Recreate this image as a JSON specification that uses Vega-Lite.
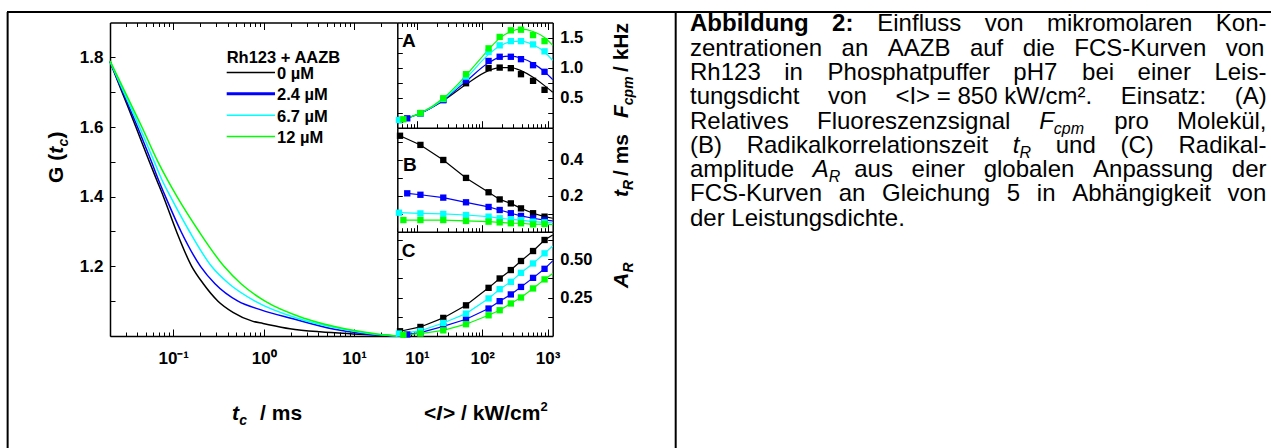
{
  "$schema": "https://vega.github.io/schema/vega-lite/v6.json",
  "width": 1271,
  "height": 448,
  "padding": 0,
  "autosize": "none",
  "background": "white",
  "config": {
    "view": {"stroke": null},
    "axis": {"labelFont": "Liberation Sans", "labelFontWeight": "bold", "labelColor": "black", "domainColor": "black", "tickColor": "black", "grid": false, "domainWidth": 1.5, "tickWidth": 1}
  },
  "datasets": {
    "fcs": [
      {"c": "0 µM", "t": 0.02, "G": 1.788}, {"c": "0 µM", "t": 0.02721, "G": 1.7}, {"c": "0 µM", "t": 0.03867, "G": 1.6}, {"c": "0 µM", "t": 0.05453, "G": 1.5}, {"c": "0 µM", "t": 0.06566, "G": 1.448}, {"c": "0 µM", "t": 0.078, "G": 1.4}, {"c": "0 µM", "t": 0.1087, "G": 1.3}, {"c": "0 µM", "t": 0.16, "G": 1.2}, {"c": "0 µM", "t": 0.215, "G": 1.15}, {"c": "0 µM", "t": 0.3125, "G": 1.1}, {"c": "0 µM", "t": 0.4577, "G": 1.068}, {"c": "0 µM", "t": 0.7615, "G": 1.042}, {"c": "0 µM", "t": 0.9824, "G": 1.036}, {"c": "0 µM", "t": 1.953, "G": 1.021}, {"c": "0 µM", "t": 4.194, "G": 1.012}, {"c": "0 µM", "t": 9.71, "G": 1.006}, {"c": "0 µM", "t": 30, "G": 1.0},
      {"c": "2.4 µM", "t": 0.02, "G": 1.788}, {"c": "2.4 µM", "t": 0.02778, "G": 1.7}, {"c": "2.4 µM", "t": 0.04027, "G": 1.6}, {"c": "2.4 µM", "t": 0.05752, "G": 1.5}, {"c": "2.4 µM", "t": 0.06874, "G": 1.448}, {"c": "2.4 µM", "t": 0.08212, "G": 1.4}, {"c": "2.4 µM", "t": 0.1219, "G": 1.3}, {"c": "2.4 µM", "t": 0.2001, "G": 1.2}, {"c": "2.4 µM", "t": 0.2894, "G": 1.15}, {"c": "2.4 µM", "t": 0.52, "G": 1.1}, {"c": "2.4 µM", "t": 0.9337, "G": 1.075}, {"c": "2.4 µM", "t": 2.055, "G": 1.05}, {"c": "2.4 µM", "t": 5.836, "G": 1.02}, {"c": "2.4 µM", "t": 13.52, "G": 1.006}, {"c": "2.4 µM", "t": 30, "G": 1.0},
      {"c": "6.7 µM", "t": 0.02, "G": 1.788}, {"c": "6.7 µM", "t": 0.02841, "G": 1.7}, {"c": "6.7 µM", "t": 0.04237, "G": 1.6}, {"c": "6.7 µM", "t": 0.06176, "G": 1.5}, {"c": "6.7 µM", "t": 0.07513, "G": 1.448}, {"c": "6.7 µM", "t": 0.09329, "G": 1.4}, {"c": "6.7 µM", "t": 0.1513, "G": 1.3}, {"c": "6.7 µM", "t": 0.2649, "G": 1.2}, {"c": "6.7 µM", "t": 0.4135, "G": 1.15}, {"c": "6.7 µM", "t": 0.8015, "G": 1.1}, {"c": "6.7 µM", "t": 2.395, "G": 1.05}, {"c": "6.7 µM", "t": 7.339, "G": 1.02}, {"c": "6.7 µM", "t": 16.16, "G": 1.006}, {"c": "6.7 µM", "t": 30, "G": 1.0},
      {"c": "12 µM", "t": 0.02, "G": 1.79}, {"c": "12 µM", "t": 0.02935, "G": 1.7}, {"c": "12 µM", "t": 0.04503, "G": 1.6}, {"c": "12 µM", "t": 0.06786, "G": 1.5}, {"c": "12 µM", "t": 0.08643, "G": 1.448}, {"c": "12 µM", "t": 0.1101, "G": 1.4}, {"c": "12 µM", "t": 0.1927, "G": 1.3}, {"c": "12 µM", "t": 0.3641, "G": 1.2}, {"c": "12 µM", "t": 0.5613, "G": 1.15}, {"c": "12 µM", "t": 1.034, "G": 1.1}, {"c": "12 µM", "t": 2.862, "G": 1.05}, {"c": "12 µM", "t": 8.125, "G": 1.02}, {"c": "12 µM", "t": 17.89, "G": 1.006}, {"c": "12 µM", "t": 30, "G": 1.0}
    ],
    "pts": [
      {"p": "A", "c": "0 µM", "I": 5.5, "v": 0.128}, {"p": "A", "c": "0 µM", "I": 11.3, "v": 0.239}, {"p": "A", "c": "0 µM", "I": 25.3, "v": 0.46}, {"p": "A", "c": "0 µM", "I": 56.4, "v": 0.74}, {"p": "A", "c": "0 µM", "I": 125, "v": 0.99}, {"p": "A", "c": "0 µM", "I": 185, "v": 1.0}, {"p": "A", "c": "0 µM", "I": 274, "v": 0.99}, {"p": "A", "c": "0 µM", "I": 392, "v": 0.89}, {"p": "A", "c": "0 µM", "I": 600, "v": 0.78}, {"p": "A", "c": "0 µM", "I": 900, "v": 0.63},
      {"p": "A", "c": "2.4 µM", "I": 7.1, "v": 0.156}, {"p": "A", "c": "2.4 µM", "I": 11.3, "v": 0.239}, {"p": "A", "c": "2.4 µM", "I": 25.3, "v": 0.46}, {"p": "A", "c": "2.4 µM", "I": 56.4, "v": 0.79}, {"p": "A", "c": "2.4 µM", "I": 125, "v": 1.11}, {"p": "A", "c": "2.4 µM", "I": 185, "v": 1.18}, {"p": "A", "c": "2.4 µM", "I": 274, "v": 1.18}, {"p": "A", "c": "2.4 µM", "I": 392, "v": 1.14}, {"p": "A", "c": "2.4 µM", "I": 600, "v": 1.04}, {"p": "A", "c": "2.4 µM", "I": 900, "v": 0.93},
      {"p": "A", "c": "6.7 µM", "I": 5.3, "v": 0.128}, {"p": "A", "c": "6.7 µM", "I": 11.3, "v": 0.239}, {"p": "A", "c": "6.7 µM", "I": 25.3, "v": 0.477}, {"p": "A", "c": "6.7 µM", "I": 56.4, "v": 0.85}, {"p": "A", "c": "6.7 µM", "I": 125, "v": 1.26}, {"p": "A", "c": "6.7 µM", "I": 185, "v": 1.37}, {"p": "A", "c": "6.7 µM", "I": 274, "v": 1.44}, {"p": "A", "c": "6.7 µM", "I": 392, "v": 1.44}, {"p": "A", "c": "6.7 µM", "I": 600, "v": 1.385}, {"p": "A", "c": "6.7 µM", "I": 900, "v": 1.27},
      {"p": "A", "c": "12 µM", "I": 6.2, "v": 0.14}, {"p": "A", "c": "12 µM", "I": 11.3, "v": 0.245}, {"p": "A", "c": "12 µM", "I": 25.3, "v": 0.49}, {"p": "A", "c": "12 µM", "I": 56.4, "v": 0.89}, {"p": "A", "c": "12 µM", "I": 125, "v": 1.32}, {"p": "A", "c": "12 µM", "I": 185, "v": 1.51}, {"p": "A", "c": "12 µM", "I": 274, "v": 1.62}, {"p": "A", "c": "12 µM", "I": 392, "v": 1.63}, {"p": "A", "c": "12 µM", "I": 600, "v": 1.54}, {"p": "A", "c": "12 µM", "I": 900, "v": 1.44},
      {"p": "B", "c": "0 µM", "I": 5.5, "v": 0.535}, {"p": "B", "c": "0 µM", "I": 11.3, "v": 0.484}, {"p": "B", "c": "0 µM", "I": 25.3, "v": 0.4}, {"p": "B", "c": "0 µM", "I": 56.4, "v": 0.3}, {"p": "B", "c": "0 µM", "I": 125, "v": 0.22}, {"p": "B", "c": "0 µM", "I": 185, "v": 0.18}, {"p": "B", "c": "0 µM", "I": 274, "v": 0.158}, {"p": "B", "c": "0 µM", "I": 392, "v": 0.13}, {"p": "B", "c": "0 µM", "I": 600, "v": 0.103}, {"p": "B", "c": "0 µM", "I": 900, "v": 0.084},
      {"p": "B", "c": "2.4 µM", "I": 7.1, "v": 0.214}, {"p": "B", "c": "2.4 µM", "I": 11.3, "v": 0.206}, {"p": "B", "c": "2.4 µM", "I": 25.3, "v": 0.19}, {"p": "B", "c": "2.4 µM", "I": 56.4, "v": 0.164}, {"p": "B", "c": "2.4 µM", "I": 125, "v": 0.138}, {"p": "B", "c": "2.4 µM", "I": 185, "v": 0.121}, {"p": "B", "c": "2.4 µM", "I": 274, "v": 0.103}, {"p": "B", "c": "2.4 µM", "I": 392, "v": 0.088}, {"p": "B", "c": "2.4 µM", "I": 600, "v": 0.075}, {"p": "B", "c": "2.4 µM", "I": 900, "v": 0.065},
      {"p": "B", "c": "6.7 µM", "I": 5.3, "v": 0.106}, {"p": "B", "c": "6.7 µM", "I": 11.3, "v": 0.102}, {"p": "B", "c": "6.7 µM", "I": 25.3, "v": 0.099}, {"p": "B", "c": "6.7 µM", "I": 56.4, "v": 0.093}, {"p": "B", "c": "6.7 µM", "I": 125, "v": 0.084}, {"p": "B", "c": "6.7 µM", "I": 185, "v": 0.075}, {"p": "B", "c": "6.7 µM", "I": 274, "v": 0.069}, {"p": "B", "c": "6.7 µM", "I": 392, "v": 0.065}, {"p": "B", "c": "6.7 µM", "I": 600, "v": 0.056}, {"p": "B", "c": "6.7 µM", "I": 900, "v": 0.052},
      {"p": "B", "c": "12 µM", "I": 6.2, "v": 0.065}, {"p": "B", "c": "12 µM", "I": 11.3, "v": 0.065}, {"p": "B", "c": "12 µM", "I": 25.3, "v": 0.065}, {"p": "B", "c": "12 µM", "I": 56.4, "v": 0.06}, {"p": "B", "c": "12 µM", "I": 125, "v": 0.056}, {"p": "B", "c": "12 µM", "I": 185, "v": 0.052}, {"p": "B", "c": "12 µM", "I": 274, "v": 0.047}, {"p": "B", "c": "12 µM", "I": 392, "v": 0.047}, {"p": "B", "c": "12 µM", "I": 600, "v": 0.041}, {"p": "B", "c": "12 µM", "I": 900, "v": 0.043},
      {"p": "C", "c": "0 µM", "I": 5.5, "v": 0.031}, {"p": "C", "c": "0 µM", "I": 11.3, "v": 0.059}, {"p": "C", "c": "0 µM", "I": 25.3, "v": 0.118}, {"p": "C", "c": "0 µM", "I": 56.4, "v": 0.2}, {"p": "C", "c": "0 µM", "I": 125, "v": 0.314}, {"p": "C", "c": "0 µM", "I": 185, "v": 0.375}, {"p": "C", "c": "0 µM", "I": 274, "v": 0.43}, {"p": "C", "c": "0 µM", "I": 392, "v": 0.489}, {"p": "C", "c": "0 µM", "I": 600, "v": 0.554}, {"p": "C", "c": "0 µM", "I": 900, "v": 0.626},
      {"p": "C", "c": "2.4 µM", "I": 7.1, "v": 0.01}, {"p": "C", "c": "2.4 µM", "I": 11.3, "v": 0.022}, {"p": "C", "c": "2.4 µM", "I": 25.3, "v": 0.063}, {"p": "C", "c": "2.4 µM", "I": 56.4, "v": 0.109}, {"p": "C", "c": "2.4 µM", "I": 125, "v": 0.179}, {"p": "C", "c": "2.4 µM", "I": 185, "v": 0.227}, {"p": "C", "c": "2.4 µM", "I": 274, "v": 0.271}, {"p": "C", "c": "2.4 µM", "I": 392, "v": 0.32}, {"p": "C", "c": "2.4 µM", "I": 600, "v": 0.379}, {"p": "C", "c": "2.4 µM", "I": 900, "v": 0.438},
      {"p": "C", "c": "6.7 µM", "I": 5.3, "v": 0.016}, {"p": "C", "c": "6.7 µM", "I": 11.3, "v": 0.033}, {"p": "C", "c": "6.7 µM", "I": 25.3, "v": 0.085}, {"p": "C", "c": "6.7 µM", "I": 56.4, "v": 0.146}, {"p": "C", "c": "6.7 µM", "I": 125, "v": 0.245}, {"p": "C", "c": "6.7 µM", "I": 185, "v": 0.305}, {"p": "C", "c": "6.7 µM", "I": 274, "v": 0.353}, {"p": "C", "c": "6.7 µM", "I": 392, "v": 0.412}, {"p": "C", "c": "6.7 µM", "I": 600, "v": 0.473}, {"p": "C", "c": "6.7 µM", "I": 900, "v": 0.539},
      {"p": "C", "c": "12 µM", "I": 6.2, "v": 0.008}, {"p": "C", "c": "12 µM", "I": 11.3, "v": 0.016}, {"p": "C", "c": "12 µM", "I": 25.3, "v": 0.037}, {"p": "C", "c": "12 µM", "I": 56.4, "v": 0.077}, {"p": "C", "c": "12 µM", "I": 125, "v": 0.135}, {"p": "C", "c": "12 µM", "I": 185, "v": 0.168}, {"p": "C", "c": "12 µM", "I": 274, "v": 0.212}, {"p": "C", "c": "12 µM", "I": 392, "v": 0.251}, {"p": "C", "c": "12 µM", "I": 600, "v": 0.31}, {"p": "C", "c": "12 µM", "I": 900, "v": 0.369}
    ],
    "fit": [
      {"p": "A", "c": "0 µM", "I": 5, "v": 0.11}, {"p": "A", "c": "0 µM", "I": 11.3, "v": 0.24}, {"p": "A", "c": "0 µM", "I": 25.3, "v": 0.45}, {"p": "A", "c": "0 µM", "I": 56.4, "v": 0.72}, {"p": "A", "c": "0 µM", "I": 125, "v": 0.95}, {"p": "A", "c": "0 µM", "I": 185, "v": 1.0}, {"p": "A", "c": "0 µM", "I": 274, "v": 1.0}, {"p": "A", "c": "0 µM", "I": 392, "v": 0.95}, {"p": "A", "c": "0 µM", "I": 600, "v": 0.84}, {"p": "A", "c": "0 µM", "I": 900, "v": 0.7}, {"p": "A", "c": "0 µM", "I": 1200, "v": 0.59},
      {"p": "A", "c": "2.4 µM", "I": 5, "v": 0.12}, {"p": "A", "c": "2.4 µM", "I": 11.3, "v": 0.24}, {"p": "A", "c": "2.4 µM", "I": 25.3, "v": 0.46}, {"p": "A", "c": "2.4 µM", "I": 56.4, "v": 0.77}, {"p": "A", "c": "2.4 µM", "I": 125, "v": 1.08}, {"p": "A", "c": "2.4 µM", "I": 185, "v": 1.17}, {"p": "A", "c": "2.4 µM", "I": 274, "v": 1.19}, {"p": "A", "c": "2.4 µM", "I": 392, "v": 1.16}, {"p": "A", "c": "2.4 µM", "I": 600, "v": 1.07}, {"p": "A", "c": "2.4 µM", "I": 900, "v": 0.93}, {"p": "A", "c": "2.4 µM", "I": 1200, "v": 0.8},
      {"p": "A", "c": "6.7 µM", "I": 5, "v": 0.12}, {"p": "A", "c": "6.7 µM", "I": 11.3, "v": 0.24}, {"p": "A", "c": "6.7 µM", "I": 25.3, "v": 0.47}, {"p": "A", "c": "6.7 µM", "I": 56.4, "v": 0.82}, {"p": "A", "c": "6.7 µM", "I": 125, "v": 1.22}, {"p": "A", "c": "6.7 µM", "I": 185, "v": 1.36}, {"p": "A", "c": "6.7 µM", "I": 274, "v": 1.43}, {"p": "A", "c": "6.7 µM", "I": 392, "v": 1.44}, {"p": "A", "c": "6.7 µM", "I": 600, "v": 1.38}, {"p": "A", "c": "6.7 µM", "I": 900, "v": 1.26}, {"p": "A", "c": "6.7 µM", "I": 1200, "v": 1.12},
      {"p": "A", "c": "12 µM", "I": 5, "v": 0.12}, {"p": "A", "c": "12 µM", "I": 11.3, "v": 0.245}, {"p": "A", "c": "12 µM", "I": 25.3, "v": 0.49}, {"p": "A", "c": "12 µM", "I": 56.4, "v": 0.87}, {"p": "A", "c": "12 µM", "I": 125, "v": 1.3}, {"p": "A", "c": "12 µM", "I": 185, "v": 1.49}, {"p": "A", "c": "12 µM", "I": 274, "v": 1.6}, {"p": "A", "c": "12 µM", "I": 392, "v": 1.64}, {"p": "A", "c": "12 µM", "I": 600, "v": 1.6}, {"p": "A", "c": "12 µM", "I": 900, "v": 1.5}, {"p": "A", "c": "12 µM", "I": 1200, "v": 1.37},
      {"p": "B", "c": "0 µM", "I": 5.5, "v": 0.535}, {"p": "B", "c": "0 µM", "I": 11.3, "v": 0.484}, {"p": "B", "c": "0 µM", "I": 25.3, "v": 0.4}, {"p": "B", "c": "0 µM", "I": 56.4, "v": 0.3}, {"p": "B", "c": "0 µM", "I": 125, "v": 0.22}, {"p": "B", "c": "0 µM", "I": 185, "v": 0.18}, {"p": "B", "c": "0 µM", "I": 274, "v": 0.158}, {"p": "B", "c": "0 µM", "I": 392, "v": 0.13}, {"p": "B", "c": "0 µM", "I": 600, "v": 0.103}, {"p": "B", "c": "0 µM", "I": 900, "v": 0.084}, {"p": "B", "c": "0 µM", "I": 1200, "v": 0.075},
      {"p": "B", "c": "2.4 µM", "I": 7.1, "v": 0.214}, {"p": "B", "c": "2.4 µM", "I": 11.3, "v": 0.206}, {"p": "B", "c": "2.4 µM", "I": 25.3, "v": 0.19}, {"p": "B", "c": "2.4 µM", "I": 56.4, "v": 0.164}, {"p": "B", "c": "2.4 µM", "I": 125, "v": 0.138}, {"p": "B", "c": "2.4 µM", "I": 185, "v": 0.121}, {"p": "B", "c": "2.4 µM", "I": 274, "v": 0.103}, {"p": "B", "c": "2.4 µM", "I": 392, "v": 0.088}, {"p": "B", "c": "2.4 µM", "I": 600, "v": 0.075}, {"p": "B", "c": "2.4 µM", "I": 900, "v": 0.065}, {"p": "B", "c": "2.4 µM", "I": 1200, "v": 0.06},
      {"p": "B", "c": "6.7 µM", "I": 5.3, "v": 0.106}, {"p": "B", "c": "6.7 µM", "I": 11.3, "v": 0.102}, {"p": "B", "c": "6.7 µM", "I": 25.3, "v": 0.099}, {"p": "B", "c": "6.7 µM", "I": 56.4, "v": 0.093}, {"p": "B", "c": "6.7 µM", "I": 125, "v": 0.084}, {"p": "B", "c": "6.7 µM", "I": 185, "v": 0.075}, {"p": "B", "c": "6.7 µM", "I": 274, "v": 0.069}, {"p": "B", "c": "6.7 µM", "I": 392, "v": 0.065}, {"p": "B", "c": "6.7 µM", "I": 600, "v": 0.056}, {"p": "B", "c": "6.7 µM", "I": 900, "v": 0.052}, {"p": "B", "c": "6.7 µM", "I": 1200, "v": 0.05},
      {"p": "B", "c": "12 µM", "I": 6.2, "v": 0.065}, {"p": "B", "c": "12 µM", "I": 11.3, "v": 0.065}, {"p": "B", "c": "12 µM", "I": 25.3, "v": 0.065}, {"p": "B", "c": "12 µM", "I": 56.4, "v": 0.06}, {"p": "B", "c": "12 µM", "I": 125, "v": 0.056}, {"p": "B", "c": "12 µM", "I": 185, "v": 0.052}, {"p": "B", "c": "12 µM", "I": 274, "v": 0.047}, {"p": "B", "c": "12 µM", "I": 392, "v": 0.047}, {"p": "B", "c": "12 µM", "I": 600, "v": 0.041}, {"p": "B", "c": "12 µM", "I": 900, "v": 0.043}, {"p": "B", "c": "12 µM", "I": 1200, "v": 0.04},
      {"p": "C", "c": "0 µM", "I": 5.5, "v": 0.031}, {"p": "C", "c": "0 µM", "I": 11.3, "v": 0.059}, {"p": "C", "c": "0 µM", "I": 25.3, "v": 0.118}, {"p": "C", "c": "0 µM", "I": 56.4, "v": 0.2}, {"p": "C", "c": "0 µM", "I": 125, "v": 0.314}, {"p": "C", "c": "0 µM", "I": 185, "v": 0.375}, {"p": "C", "c": "0 µM", "I": 274, "v": 0.43}, {"p": "C", "c": "0 µM", "I": 392, "v": 0.489}, {"p": "C", "c": "0 µM", "I": 600, "v": 0.554}, {"p": "C", "c": "0 µM", "I": 900, "v": 0.626}, {"p": "C", "c": "0 µM", "I": 1200, "v": 0.659},
      {"p": "C", "c": "2.4 µM", "I": 7.1, "v": 0.01}, {"p": "C", "c": "2.4 µM", "I": 11.3, "v": 0.022}, {"p": "C", "c": "2.4 µM", "I": 25.3, "v": 0.063}, {"p": "C", "c": "2.4 µM", "I": 56.4, "v": 0.109}, {"p": "C", "c": "2.4 µM", "I": 125, "v": 0.179}, {"p": "C", "c": "2.4 µM", "I": 185, "v": 0.227}, {"p": "C", "c": "2.4 µM", "I": 274, "v": 0.271}, {"p": "C", "c": "2.4 µM", "I": 392, "v": 0.32}, {"p": "C", "c": "2.4 µM", "I": 600, "v": 0.379}, {"p": "C", "c": "2.4 µM", "I": 900, "v": 0.438}, {"p": "C", "c": "2.4 µM", "I": 1200, "v": 0.49},
      {"p": "C", "c": "6.7 µM", "I": 5.3, "v": 0.016}, {"p": "C", "c": "6.7 µM", "I": 11.3, "v": 0.033}, {"p": "C", "c": "6.7 µM", "I": 25.3, "v": 0.085}, {"p": "C", "c": "6.7 µM", "I": 56.4, "v": 0.146}, {"p": "C", "c": "6.7 µM", "I": 125, "v": 0.245}, {"p": "C", "c": "6.7 µM", "I": 185, "v": 0.305}, {"p": "C", "c": "6.7 µM", "I": 274, "v": 0.353}, {"p": "C", "c": "6.7 µM", "I": 392, "v": 0.412}, {"p": "C", "c": "6.7 µM", "I": 600, "v": 0.473}, {"p": "C", "c": "6.7 µM", "I": 900, "v": 0.539}, {"p": "C", "c": "6.7 µM", "I": 1200, "v": 0.587},
      {"p": "C", "c": "12 µM", "I": 6.2, "v": 0.008}, {"p": "C", "c": "12 µM", "I": 11.3, "v": 0.016}, {"p": "C", "c": "12 µM", "I": 25.3, "v": 0.037}, {"p": "C", "c": "12 µM", "I": 56.4, "v": 0.077}, {"p": "C", "c": "12 µM", "I": 125, "v": 0.135}, {"p": "C", "c": "12 µM", "I": 185, "v": 0.168}, {"p": "C", "c": "12 µM", "I": 274, "v": 0.212}, {"p": "C", "c": "12 µM", "I": 392, "v": 0.251}, {"p": "C", "c": "12 µM", "I": 600, "v": 0.31}, {"p": "C", "c": "12 µM", "I": 900, "v": 0.369}, {"p": "C", "c": "12 µM", "I": 1200, "v": 0.408}
    ],
    "cap": [
      {"line": 1, "piece": "bold", "text": "Abbildung \u2002\u20092:"},
      {"line": 1, "piece": "R", "text": "Einfluss \u2002\u2009von \u2002\u2009mikromolaren \u2002\u2009Kon-"},
      {"line": 2, "piece": "L", "text": "zentrationen \u2004\u2009an \u2004\u2009AAZB \u2004\u2009auf \u2004\u2009die \u2004\u2009FCS-Kurven \u2004\u2009von"},
      {"line": 3, "piece": "L", "text": "Rh123 \u2002\u2009in \u2002\u2005Phosphatpuffer \u2002\u2009pH7 \u2002\u2005bei \u2002\u2009einer \u2002\u2009Leis-"},
      {"line": 4, "piece": "L", "text": "tungsdicht \u2002\u2005\u2006von \u2002\u2005\u2006<I> = 850 kW/cm². \u2002\u2005\u2006Einsatz: \u2002\u2005\u2006(A)"},
      {"line": 5, "piece": "L", "text": "Relatives \u2002\u2009\u2009Fluoreszenzsignal"},
      {"line": 5, "piece": "i5", "text": "F"},
      {"line": 5, "piece": "s5", "text": "cpm"},
      {"line": 5, "piece": "R", "text": "pro \u2002\u2009\u2009Molekül,"},
      {"line": 6, "piece": "L", "text": "(B) \u2002\u2005Radikalkorrelationszeit"},
      {"line": 6, "piece": "i6", "text": "t"},
      {"line": 6, "piece": "s6", "text": "R"},
      {"line": 6, "piece": "R", "text": "und \u2002\u2005(C) \u2002\u2005Radikal-"},
      {"line": 7, "piece": "L", "text": "amplitude"},
      {"line": 7, "piece": "i7", "text": "A"},
      {"line": 7, "piece": "s7", "text": "R"},
      {"line": 7, "piece": "R", "text": "aus \u2002einer \u2002globalen \u2002Anpassung \u2002der"},
      {"line": 8, "piece": "L", "text": "FCS-Kurven \u2005\u2006an \u2005\u2006Gleichung \u2005\u20065 \u2005\u2006in \u2005\u2006Abhängigkeit \u2005\u2006von"},
      {"line": 9, "piece": "L", "text": "der Leistungsdichte."}
    ]
  },
  "resolve": {"scale": {"x": "independent", "y": "independent"}},
  "layer": [
    {
      "layer": [
        {
          "data": {"values": [{}]},
          "mark": {"type": "rule", "strokeWidth": 2, "color": "black"},
          "encoding": {
            "x": {"datum": 0, "type": "quantitative", "scale": {"domain": [0, 1], "range": [7, 1271], "nice": false, "zero": false}, "axis": null},
            "x2": {"datum": 1},
            "y": {"datum": 0.2, "type": "quantitative", "scale": {"domain": [0.2, 18.15], "range": [12, 448], "nice": false, "zero": false}, "axis": null}
          }
        },
        {
          "data": {"values": [{}]},
          "mark": {"type": "rule", "strokeWidth": 2, "color": "black"},
          "encoding": {
            "x": {"datum": 0.0005, "type": "quantitative", "axis": null},
            "y": {"datum": 0.2, "type": "quantitative", "axis": null},
            "y2": {"datum": 18.15}
          }
        },
        {
          "data": {"values": [{}]},
          "mark": {"type": "rule", "strokeWidth": 2, "color": "black"},
          "encoding": {
            "x": {"datum": 0.52903, "type": "quantitative", "axis": null},
            "y": {"datum": 0.2, "type": "quantitative", "axis": null},
            "y2": {"datum": 18.15}
          }
        },
        {
          "data": {"name": "cap"},
          "transform": [{"filter": "datum.piece == 'L'"}],
          "mark": {"type": "text", "font": "Liberation Sans", "fontSize": 24, "align": "left", "baseline": "alphabetic", "color": "black"},
          "encoding": {"text": {"field": "text"}, "x": {"datum": 0.54035, "type": "quantitative", "axis": null}, "y": {"field": "line", "type": "quantitative", "axis": null}}
        },
        {
          "data": {"name": "cap"},
          "transform": [{"filter": "datum.piece == 'bold'"}],
          "mark": {"type": "text", "font": "Liberation Sans", "fontSize": 24, "fontWeight": "bold", "align": "left", "baseline": "alphabetic", "color": "black"},
          "encoding": {"text": {"field": "text"}, "x": {"datum": 0.54035, "type": "quantitative", "axis": null}, "y": {"field": "line", "type": "quantitative", "axis": null}}
        },
        {
          "data": {"name": "cap"},
          "transform": [{"filter": "datum.piece == 'R'"}],
          "mark": {"type": "text", "font": "Liberation Sans", "fontSize": 24, "align": "right", "baseline": "alphabetic", "color": "black"},
          "encoding": {"text": {"field": "text"}, "x": {"datum": 0.99644, "type": "quantitative", "axis": null}, "y": {"field": "line", "type": "quantitative", "axis": null}}
        },
        {
          "data": {"name": "cap"},
          "transform": [{"filter": "datum.piece == 'i5'"}],
          "mark": {"type": "text", "font": "Liberation Sans", "fontSize": 24, "fontStyle": "italic", "align": "left", "baseline": "alphabetic", "color": "black"},
          "encoding": {"text": {"field": "text"}, "x": {"datum": 0.8166, "type": "quantitative", "axis": null}, "y": {"field": "line", "type": "quantitative", "axis": null}}
        },
        {
          "data": {"name": "cap"},
          "transform": [{"filter": "datum.piece == 's5'"}],
          "mark": {"type": "text", "font": "Liberation Sans", "fontSize": 16, "fontStyle": "italic", "align": "left", "baseline": "alphabetic", "color": "black", "dy": 5},
          "encoding": {"text": {"field": "text"}, "x": {"datum": 0.8282, "type": "quantitative", "axis": null}, "y": {"field": "line", "type": "quantitative", "axis": null}}
        },
        {
          "data": {"name": "cap"},
          "transform": [{"filter": "datum.piece == 'i6'"}],
          "mark": {"type": "text", "font": "Liberation Sans", "fontSize": 24, "fontStyle": "italic", "align": "left", "baseline": "alphabetic", "color": "black"},
          "encoding": {"text": {"field": "text"}, "x": {"datum": 0.79573, "type": "quantitative", "axis": null}, "y": {"field": "line", "type": "quantitative", "axis": null}}
        },
        {
          "data": {"name": "cap"},
          "transform": [{"filter": "datum.piece == 's6'"}],
          "mark": {"type": "text", "font": "Liberation Sans", "fontSize": 16, "fontStyle": "italic", "align": "left", "baseline": "alphabetic", "color": "black", "dy": 5},
          "encoding": {"text": {"field": "text"}, "x": {"datum": 0.80103, "type": "quantitative", "axis": null}, "y": {"field": "line", "type": "quantitative", "axis": null}}
        },
        {
          "data": {"name": "cap"},
          "transform": [{"filter": "datum.piece == 'i7'"}],
          "mark": {"type": "text", "font": "Liberation Sans", "fontSize": 24, "fontStyle": "italic", "align": "left", "baseline": "alphabetic", "color": "black"},
          "encoding": {"text": {"field": "text"}, "x": {"datum": 0.63742, "type": "quantitative", "axis": null}, "y": {"field": "line", "type": "quantitative", "axis": null}}
        },
        {
          "data": {"name": "cap"},
          "transform": [{"filter": "datum.piece == 's7'"}],
          "mark": {"type": "text", "font": "Liberation Sans", "fontSize": 16, "fontStyle": "italic", "align": "left", "baseline": "alphabetic", "color": "black", "dy": 5},
          "encoding": {"text": {"field": "text"}, "x": {"datum": 0.65008, "type": "quantitative", "axis": null}, "y": {"field": "line", "type": "quantitative", "axis": null}}
        }
      ]
    },
    {
      "resolve": {"axis": {"x": "independent", "y": "independent"}},
      "layer": [
        {
          "data": {"name": "fcs"},
          "mark": {"type": "line", "strokeWidth": 1.5, "interpolate": "monotone"},
          "encoding": {
            "x": {"field": "t", "type": "quantitative", "scale": {"type": "log", "domain": [0.02, 30], "range": [110, 397.3], "nice": false},
              "axis": {"orient": "bottom", "offset": -112, "values": [0.02, 0.03, 0.04, 0.05, 0.06, 0.07, 0.08, 0.09, 0.1, 0.2, 0.3, 0.4, 0.5, 0.6, 0.7, 0.8, 0.9, 1, 2, 3, 4, 5, 6, 7, 8, 9, 10, 20, 30],
                "tickSize": {"condition": {"test": "datum.value == 0.1 || datum.value == 1 || datum.value == 10", "value": -7}, "value": -4},
                "labelExpr": "datum.value == 0.1 ? '10⁻¹' : datum.value == 1 ? '10⁰' : datum.value == 10 ? '10¹' : ''",
                "labelPadding": 21, "labelFlush": false, "labelOverlap": false, "labelFontSize": 17, "title": null}},
            "y": {"field": "G", "type": "quantitative", "scale": {"domain": [1, 1.9], "range": [336, 22.5], "nice": false, "zero": false},
              "axis": {"orient": "left", "offset": -110, "values": [1.1, 1.2, 1.3, 1.4, 1.5, 1.6, 1.7, 1.8], "tickSize": -5,
                "labelExpr": "datum.value == 1.2 || datum.value == 1.4 || datum.value == 1.6 || datum.value == 1.8 ? format(datum.value, '.1f') : ''",
                "labelPadding": 12, "labelFontSize": 17, "title": null}},
            "color": {"field": "c", "type": "nominal", "scale": {"domain": ["0 µM", "2.4 µM", "6.7 µM", "12 µM"], "range": ["#000000", "#0000ff", "#00ffff", "#00ff00"]}, "legend": null}
          }
        },
        {
          "data": {"values": [{}]},
          "mark": {"type": "text", "text": "t", "font": "Liberation Sans", "fontSize": 21, "fontWeight": "bold", "fontStyle": "italic", "align": "left", "baseline": "alphabetic", "color": "black"},
          "encoding": {
            "x": {"datum": 0.447, "type": "quantitative", "scale": {"type": "log", "domain": [0.02, 30], "range": [110, 397.3], "nice": false},
              "axis": {"orient": "top", "offset": -22.5, "values": [0.02, 0.03, 0.04, 0.05, 0.06, 0.07, 0.08, 0.09, 0.1, 0.2, 0.3, 0.4, 0.5, 0.6, 0.7, 0.8, 0.9, 1, 2, 3, 4, 5, 6, 7, 8, 9, 10, 20, 30],
                "tickSize": {"condition": {"test": "datum.value == 0.1 || datum.value == 1 || datum.value == 10", "value": -7}, "value": -4}, "labels": false, "title": null}},
            "y": {"datum": 0.7588, "type": "quantitative", "scale": {"domain": [1, 1.9], "range": [336, 22.5], "nice": false, "zero": false}, "axis": null}
          }
        },
        {
          "data": {"values": [{}]},
          "mark": {"type": "text", "text": "c", "font": "Liberation Sans", "fontSize": 14, "fontWeight": "bold", "fontStyle": "italic", "align": "left", "baseline": "alphabetic", "color": "black", "dx": 7.2, "dy": 5},
          "encoding": {"x": {"datum": 0.447, "type": "quantitative", "axis": null}, "y": {"datum": 0.7588, "type": "quantitative", "axis": null}}
        },
        {
          "data": {"values": [{}]},
          "mark": {"type": "text", "text": "/ ms", "font": "Liberation Sans", "fontSize": 21, "fontWeight": "bold", "align": "left", "baseline": "alphabetic", "color": "black", "dx": 28},
          "encoding": {"x": {"datum": 0.447, "type": "quantitative", "axis": null}, "y": {"datum": 0.7588, "type": "quantitative", "axis": null}}
        },
        {
          "data": {"values": [{}]},
          "mark": {"type": "text", "text": "G (", "font": "Liberation Sans", "fontSize": 21, "fontWeight": "bold", "align": "left", "baseline": "alphabetic", "color": "black", "angle": 270},
          "encoding": {"x": {"datum": 0.006044, "type": "quantitative", "axis": null}, "y": {"datum": 1.4393, "type": "quantitative", "axis": null}}
        },
        {
          "data": {"values": [{}]},
          "mark": {"type": "text", "text": "t", "font": "Liberation Sans", "fontSize": 21, "fontWeight": "bold", "fontStyle": "italic", "align": "left", "baseline": "alphabetic", "color": "black", "angle": 270, "dx": 29.2},
          "encoding": {"x": {"datum": 0.006044, "type": "quantitative", "axis": null}, "y": {"datum": 1.4393, "type": "quantitative", "axis": null}}
        },
        {
          "data": {"values": [{}]},
          "mark": {"type": "text", "text": "c", "font": "Liberation Sans", "fontSize": 14, "fontWeight": "bold", "fontStyle": "italic", "align": "left", "baseline": "alphabetic", "color": "black", "angle": 270, "dx": 36.4, "dy": 5},
          "encoding": {"x": {"datum": 0.006044, "type": "quantitative", "axis": null}, "y": {"datum": 1.4393, "type": "quantitative", "axis": null}}
        },
        {
          "data": {"values": [{}]},
          "mark": {"type": "text", "text": ")", "font": "Liberation Sans", "fontSize": 21, "fontWeight": "bold", "align": "left", "baseline": "alphabetic", "color": "black", "angle": 270, "dx": 44.5},
          "encoding": {"x": {"datum": 0.006044, "type": "quantitative", "axis": null}, "y": {"datum": 1.4393, "type": "quantitative", "axis": null}}
        }
      ]
    },
    {
      "layer": [
        {
          "data": {"values": [{"c": "0 µM"}, {"c": "2.4 µM"}, {"c": "6.7 µM"}, {"c": "12 µM"}]},
          "mark": {"type": "rule"},
          "encoding": {
            "x": {"datum": 0, "type": "quantitative", "scale": {"domain": [0, 1], "range": [226.7, 275], "nice": false, "zero": false}, "axis": null},
            "x2": {"datum": 1},
            "y": {"field": "c", "type": "ordinal", "scale": {"type": "point", "domain": ["0 µM", "2.4 µM", "6.7 µM", "12 µM"], "range": [72.5, 136.5], "padding": 0}, "axis": null},
            "color": {"field": "c", "type": "nominal", "scale": {"domain": ["0 µM", "2.4 µM", "6.7 µM", "12 µM"], "range": ["#000000", "#0000ff", "#00ffff", "#00ff00"]}, "legend": null},
            "strokeWidth": {"condition": {"test": "datum.c == '2.4 µM'", "value": 3}, "value": 1.5}
          }
        },
        {
          "data": {"values": [{"c": "0 µM"}, {"c": "2.4 µM"}, {"c": "6.7 µM"}, {"c": "12 µM"}]},
          "mark": {"type": "text", "font": "Liberation Sans", "fontSize": 16.5, "fontWeight": "bold", "align": "left", "baseline": "middle", "color": "black", "dx": 2, "dy": 1.5},
          "encoding": {
            "text": {"field": "c"},
            "x": {"datum": 1, "type": "quantitative", "axis": null},
            "y": {"field": "c", "type": "ordinal", "axis": null}
          }
        },
        {
          "data": {"values": [{}]},
          "mark": {"type": "text", "text": "Rh123 + AAZB", "font": "Liberation Sans", "fontSize": 16.5, "fontWeight": "bold", "align": "left", "baseline": "alphabetic", "color": "black", "dy": -9.5},
          "encoding": {
            "x": {"datum": 0, "type": "quantitative", "axis": null},
            "y": {"datum": "0 µM", "type": "ordinal", "axis": null}
          }
        }
      ]
    },
    {
      "resolve": {"axis": {"x": "independent", "y": "independent"}},
      "layer": [
        {
          "data": {"name": "fit"},
          "transform": [{"filter": "datum.p == 'A'"}],
          "mark": {"type": "line", "strokeWidth": 1.2, "interpolate": "monotone"},
          "encoding": {
            "x": {"field": "I", "type": "quantitative", "scale": {"type": "log", "domain": [5, 1200], "range": [397.3, 552.7], "nice": false},
              "axis": {"orient": "top", "offset": -22.5, "values": [5, 6, 7, 8, 9, 10, 20, 30, 40, 50, 60, 70, 80, 90, 100, 200, 300, 400, 500, 600, 700, 800, 900, 1000],
                "tickSize": {"condition": {"test": "datum.value == 10 || datum.value == 100 || datum.value == 1000", "value": -7}, "value": -4}, "labels": false, "title": null}},
            "y": {"field": "v", "type": "quantitative", "scale": {"domain": [0, 1.75], "range": [127.7, 22.5], "nice": false, "zero": false},
              "axis": {"orient": "left", "offset": -397.3, "values": [0.25, 0.5, 0.75, 1, 1.25, 1.5], "tickSize": -5, "labels": false, "title": null}},
            "color": {"field": "c", "type": "nominal", "scale": {"domain": ["0 µM", "2.4 µM", "6.7 µM", "12 µM"], "range": ["#000000", "#0000ff", "#00ffff", "#00ff00"]}, "legend": null}
          }
        },
        {
          "data": {"name": "pts"},
          "transform": [{"filter": "datum.p == 'A'"}],
          "mark": {"type": "square", "size": 40, "filled": true, "opacity": 1},
          "encoding": {
            "x": {"field": "I", "type": "quantitative", "scale": {"type": "log", "domain": [5, 1200], "range": [397.3, 552.7], "nice": false},
              "axis": {"orient": "bottom", "offset": -320.3, "values": [5, 6, 7, 8, 9, 10, 20, 30, 40, 50, 60, 70, 80, 90, 100, 200, 300, 400, 500, 600, 700, 800, 900, 1000],
                "tickSize": {"condition": {"test": "datum.value == 10 || datum.value == 100 || datum.value == 1000", "value": -7}, "value": -4}, "labels": false, "title": null}},
            "y": {"field": "v", "type": "quantitative", "scale": {"domain": [0, 1.75], "range": [127.7, 22.5], "nice": false, "zero": false},
              "axis": {"orient": "right", "offset": -718.3, "values": [0.25, 0.5, 0.75, 1, 1.25, 1.5], "tickSize": -5,
                "labelExpr": "datum.value == 0.5 || datum.value == 1 || datum.value == 1.5 ? format(datum.value, '.1f') : ''", "labelPadding": 12, "labelFontSize": 16.5, "title": null}},
            "color": {"field": "c", "type": "nominal", "scale": {"domain": ["0 µM", "2.4 µM", "6.7 µM", "12 µM"], "range": ["#000000", "#0000ff", "#00ffff", "#00ff00"]}, "legend": null}
          }
        },
        {
          "data": {"values": [{}]},
          "mark": {"type": "text", "text": "A", "font": "Liberation Sans", "fontSize": 19, "fontWeight": "bold", "align": "left", "baseline": "alphabetic", "color": "black"},
          "encoding": {"x": {"datum": 5.9, "type": "quantitative", "axis": null}, "y": {"datum": 1.348, "type": "quantitative", "axis": null}}
        },
        {
          "data": {"values": [{}]},
          "mark": {"type": "text", "text": "F", "font": "Liberation Sans", "fontSize": 21, "fontWeight": "bold", "fontStyle": "italic", "align": "left", "baseline": "alphabetic", "color": "black", "angle": 270},
          "encoding": {"x": {"datum": 17080, "type": "quantitative", "axis": null}, "y": {"datum": 0.1614, "type": "quantitative", "axis": null}}
        },
        {
          "data": {"values": [{}]},
          "mark": {"type": "text", "text": "cpm", "font": "Liberation Sans", "fontSize": 14, "fontWeight": "bold", "fontStyle": "italic", "align": "left", "baseline": "alphabetic", "color": "black", "angle": 270, "dx": 12.8, "dy": 5},
          "encoding": {"x": {"datum": 17080, "type": "quantitative", "axis": null}, "y": {"datum": 0.1614, "type": "quantitative", "axis": null}}
        },
        {
          "data": {"values": [{}]},
          "mark": {"type": "text", "text": "/ kHz", "font": "Liberation Sans", "fontSize": 21, "fontWeight": "bold", "align": "left", "baseline": "alphabetic", "color": "black", "angle": 270, "dx": 46},
          "encoding": {"x": {"datum": 17080, "type": "quantitative", "axis": null}, "y": {"datum": 0.1614, "type": "quantitative", "axis": null}}
        }
      ]
    },
    {
      "resolve": {"axis": {"x": "independent", "y": "independent"}},
      "layer": [
        {
          "data": {"name": "fit"},
          "transform": [{"filter": "datum.p == 'B'"}],
          "mark": {"type": "line", "strokeWidth": 1.2},
          "encoding": {
            "x": {"field": "I", "type": "quantitative", "scale": {"type": "log", "domain": [5, 1200], "range": [397.3, 552.7], "nice": false},
              "axis": {"orient": "bottom", "offset": -216.3, "values": [5, 6, 7, 8, 9, 10, 20, 30, 40, 50, 60, 70, 80, 90, 100, 200, 300, 400, 500, 600, 700, 800, 900, 1000],
                "tickSize": {"condition": {"test": "datum.value == 10 || datum.value == 100 || datum.value == 1000", "value": -7}, "value": -4}, "labels": false, "title": null}},
            "y": {"field": "v", "type": "quantitative", "scale": {"domain": [0, 0.58], "range": [231.7, 127.7], "nice": false, "zero": false},
              "axis": {"orient": "left", "offset": -397.3, "values": [0.1, 0.2, 0.3, 0.4, 0.5], "tickSize": -5, "labels": false, "title": null}},
            "color": {"field": "c", "type": "nominal", "scale": {"domain": ["0 µM", "2.4 µM", "6.7 µM", "12 µM"], "range": ["#000000", "#0000ff", "#00ffff", "#00ff00"]}, "legend": null}
          }
        },
        {
          "data": {"name": "pts"},
          "transform": [{"filter": "datum.p == 'B'"}],
          "mark": {"type": "square", "size": 40, "filled": true, "opacity": 1},
          "encoding": {
            "x": {"field": "I", "type": "quantitative", "scale": {"type": "log", "domain": [5, 1200], "range": [397.3, 552.7], "nice": false}, "axis": null},
            "y": {"field": "v", "type": "quantitative", "scale": {"domain": [0, 0.58], "range": [231.7, 127.7], "nice": false, "zero": false},
              "axis": {"orient": "right", "offset": -718.3, "values": [0.1, 0.2, 0.3, 0.4, 0.5], "tickSize": -5,
                "labelExpr": "datum.value == 0.2 || datum.value == 0.4 ? format(datum.value, '.1f') : ''", "labelPadding": 12, "labelFontSize": 16.5, "title": null}},
            "color": {"field": "c", "type": "nominal", "scale": {"domain": ["0 µM", "2.4 µM", "6.7 µM", "12 µM"], "range": ["#000000", "#0000ff", "#00ffff", "#00ff00"]}, "legend": null}
          }
        },
        {
          "data": {"values": [{}]},
          "mark": {"type": "text", "text": "B", "font": "Liberation Sans", "fontSize": 19, "fontWeight": "bold", "align": "left", "baseline": "alphabetic", "color": "black"},
          "encoding": {"x": {"datum": 6.1, "type": "quantitative", "axis": null}, "y": {"datum": 0.336, "type": "quantitative", "axis": null}}
        },
        {
          "data": {"values": [{}]},
          "mark": {"type": "text", "text": "t", "font": "Liberation Sans", "fontSize": 21, "fontWeight": "bold", "fontStyle": "italic", "align": "left", "baseline": "alphabetic", "color": "black", "angle": 270},
          "encoding": {"x": {"datum": 17080, "type": "quantitative", "axis": null}, "y": {"datum": 0.1935, "type": "quantitative", "axis": null}}
        },
        {
          "data": {"values": [{}]},
          "mark": {"type": "text", "text": "R", "font": "Liberation Sans", "fontSize": 14, "fontWeight": "bold", "fontStyle": "italic", "align": "left", "baseline": "alphabetic", "color": "black", "angle": 270, "dx": 7, "dy": 5},
          "encoding": {"x": {"datum": 17080, "type": "quantitative", "axis": null}, "y": {"datum": 0.1935, "type": "quantitative", "axis": null}}
        },
        {
          "data": {"values": [{}]},
          "mark": {"type": "text", "text": "/ ms", "font": "Liberation Sans", "fontSize": 21, "fontWeight": "bold", "align": "left", "baseline": "alphabetic", "color": "black", "angle": 270, "dx": 21},
          "encoding": {"x": {"datum": 17080, "type": "quantitative", "axis": null}, "y": {"datum": 0.1935, "type": "quantitative", "axis": null}}
        }
      ]
    },
    {
      "resolve": {"axis": {"x": "independent", "y": "independent"}},
      "layer": [
        {
          "data": {"name": "fit"},
          "transform": [{"filter": "datum.p == 'C'"}],
          "mark": {"type": "line", "strokeWidth": 1.2},
          "encoding": {
            "x": {"field": "I", "type": "quantitative", "scale": {"type": "log", "domain": [5, 1200], "range": [397.3, 552.7], "nice": false},
              "axis": {"orient": "bottom", "offset": -112, "values": [5, 6, 7, 8, 9, 10, 20, 30, 40, 50, 60, 70, 80, 90, 100, 200, 300, 400, 500, 600, 700, 800, 900, 1000],
                "tickSize": {"condition": {"test": "datum.value == 10 || datum.value == 100 || datum.value == 1000", "value": -7}, "value": -4},
                "labels": true,
                "labelExpr": "datum.value == 10 ? '10¹' : datum.value == 100 ? '10²' : datum.value == 1000 ? '10³' : ''",
                "labelPadding": 21, "labelFlush": false, "labelOverlap": false, "labelFontSize": 17, "title": null}},
            "y": {"field": "v", "type": "quantitative", "scale": {"domain": [0, 0.68], "range": [336, 231.7], "nice": false, "zero": false},
              "axis": {"orient": "left", "offset": -397.3, "values": [0.125, 0.25, 0.375, 0.5, 0.625], "tickSize": -5, "labels": false, "title": null}},
            "color": {"field": "c", "type": "nominal", "scale": {"domain": ["0 µM", "2.4 µM", "6.7 µM", "12 µM"], "range": ["#000000", "#0000ff", "#00ffff", "#00ff00"]}, "legend": null}
          }
        },
        {
          "data": {"name": "pts"},
          "transform": [{"filter": "datum.p == 'C'"}],
          "mark": {"type": "square", "size": 40, "filled": true, "opacity": 1},
          "encoding": {
            "x": {"field": "I", "type": "quantitative", "scale": {"type": "log", "domain": [5, 1200], "range": [397.3, 552.7], "nice": false}, "axis": null},
            "y": {"field": "v", "type": "quantitative", "scale": {"domain": [0, 0.68], "range": [336, 231.7], "nice": false, "zero": false},
              "axis": {"orient": "right", "offset": -718.3, "values": [0.125, 0.25, 0.375, 0.5, 0.625], "tickSize": -5,
                "labelExpr": "datum.value == 0.25 || datum.value == 0.5 ? format(datum.value, '.2f') : ''", "labelPadding": 12, "labelFontSize": 16.5, "title": null}},
            "color": {"field": "c", "type": "nominal", "scale": {"domain": ["0 µM", "2.4 µM", "6.7 µM", "12 µM"], "range": ["#000000", "#0000ff", "#00ffff", "#00ff00"]}, "legend": null}
          }
        },
        {
          "data": {"values": [{}]},
          "mark": {"type": "text", "text": "C", "font": "Liberation Sans", "fontSize": 19, "fontWeight": "bold", "align": "left", "baseline": "alphabetic", "color": "black"},
          "encoding": {"x": {"datum": 5.85, "type": "quantitative", "axis": null}, "y": {"datum": 0.515, "type": "quantitative", "axis": null}}
        },
        {
          "data": {"values": [{}]},
          "mark": {"type": "text", "text": "A", "font": "Liberation Sans", "fontSize": 21, "fontWeight": "bold", "fontStyle": "italic", "align": "left", "baseline": "alphabetic", "color": "black", "angle": 270},
          "encoding": {"x": {"datum": 17080, "type": "quantitative", "axis": null}, "y": {"datum": 0.3129, "type": "quantitative", "axis": null}}
        },
        {
          "data": {"values": [{}]},
          "mark": {"type": "text", "text": "R", "font": "Liberation Sans", "fontSize": 14, "fontWeight": "bold", "fontStyle": "italic", "align": "left", "baseline": "alphabetic", "color": "black", "angle": 270, "dx": 15.5, "dy": 5},
          "encoding": {"x": {"datum": 17080, "type": "quantitative", "axis": null}, "y": {"datum": 0.3129, "type": "quantitative", "axis": null}}
        },
        {
          "data": {"values": [{}]},
          "mark": {"type": "text", "text": "<", "font": "Liberation Sans", "fontSize": 21, "fontWeight": "bold", "align": "left", "baseline": "alphabetic", "color": "black"},
          "encoding": {"x": {"datum": 12.82, "type": "quantitative", "axis": null}, "y": {"datum": -0.5476, "type": "quantitative", "axis": null}}
        },
        {
          "data": {"values": [{}]},
          "mark": {"type": "text", "text": "I", "font": "Liberation Sans", "fontSize": 21, "fontWeight": "bold", "fontStyle": "italic", "align": "left", "baseline": "alphabetic", "color": "black", "dx": 12.3},
          "encoding": {"x": {"datum": 12.82, "type": "quantitative", "axis": null}, "y": {"datum": -0.5476, "type": "quantitative", "axis": null}}
        },
        {
          "data": {"values": [{}]},
          "mark": {"type": "text", "text": "> / kW/cm", "font": "Liberation Sans", "fontSize": 21, "fontWeight": "bold", "align": "left", "baseline": "alphabetic", "color": "black", "dx": 19},
          "encoding": {"x": {"datum": 12.82, "type": "quantitative", "axis": null}, "y": {"datum": -0.5476, "type": "quantitative", "axis": null}}
        },
        {
          "data": {"values": [{}]},
          "mark": {"type": "text", "text": "2", "font": "Liberation Sans", "fontSize": 13, "fontWeight": "bold", "align": "left", "baseline": "alphabetic", "color": "black", "dx": 116.5, "dy": -9},
          "encoding": {"x": {"datum": 12.82, "type": "quantitative", "axis": null}, "y": {"datum": -0.5476, "type": "quantitative", "axis": null}}
        }
      ]
    }
  ]
}
